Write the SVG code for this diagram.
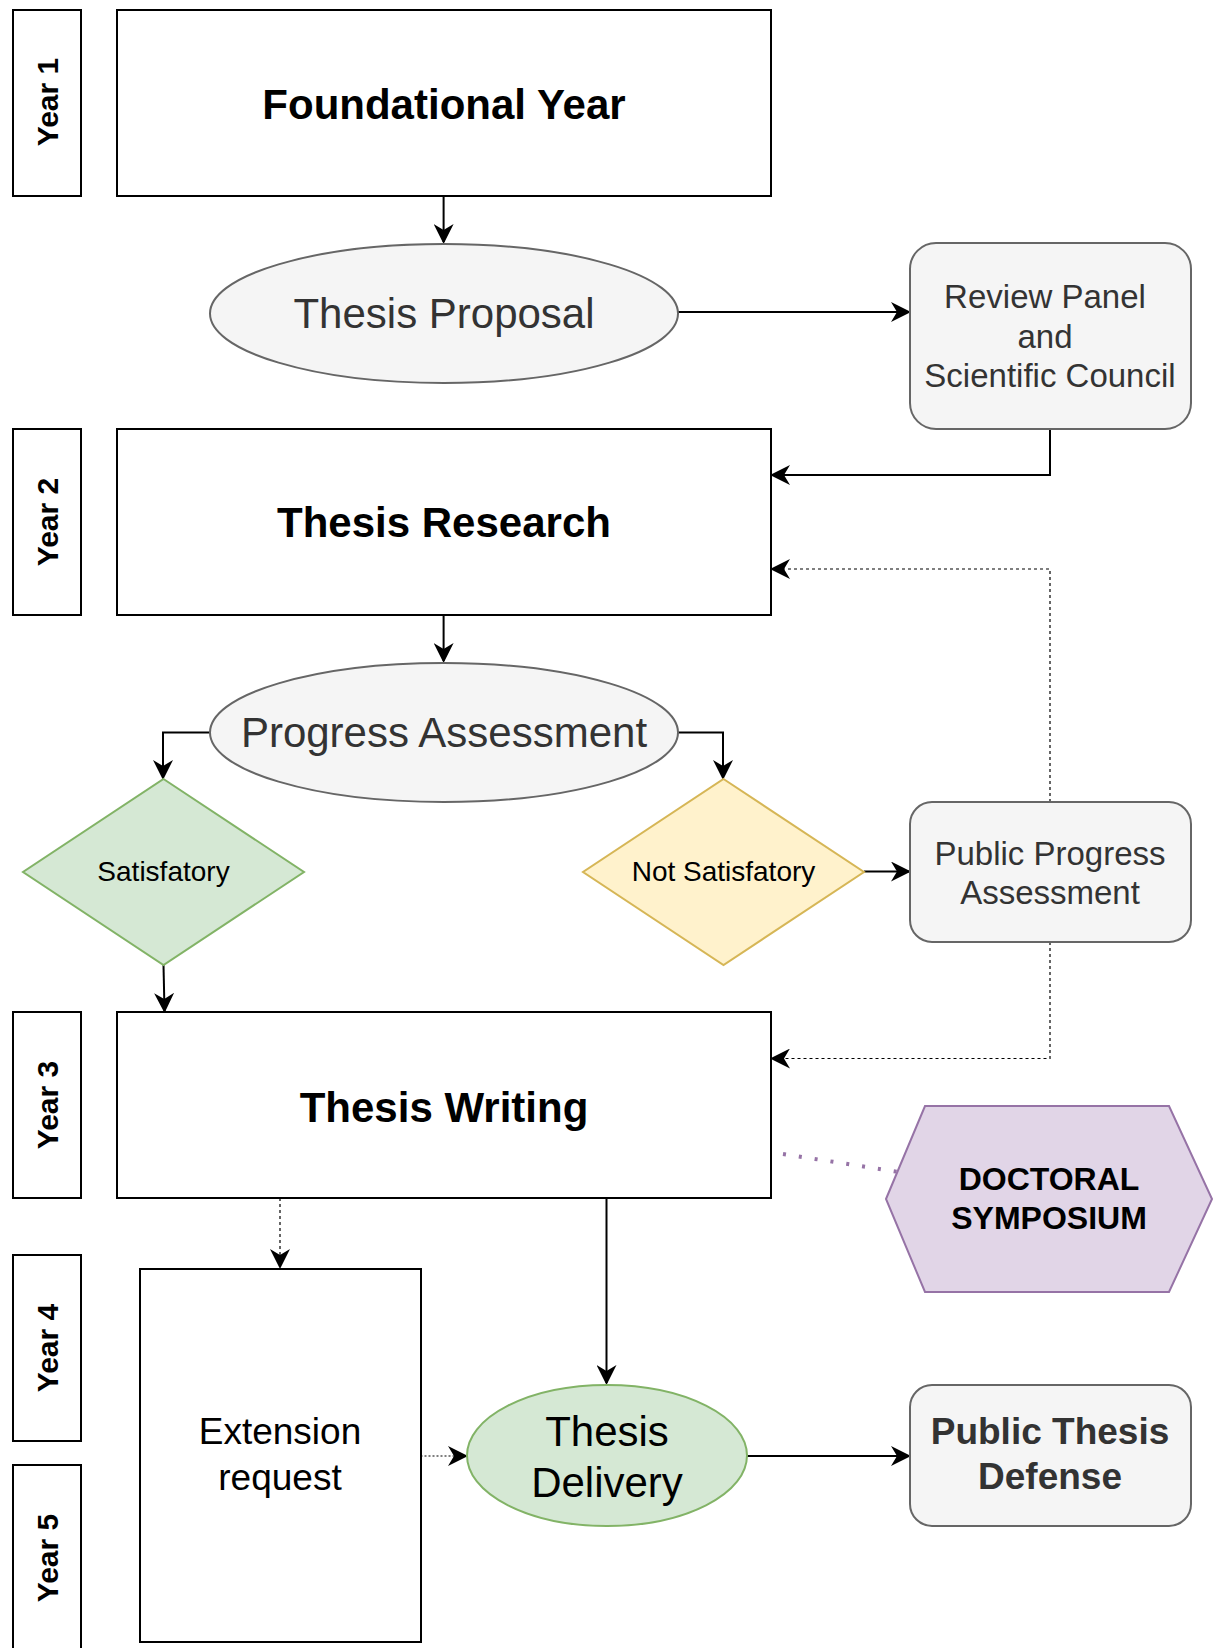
<svg xmlns="http://www.w3.org/2000/svg" width="1213" height="1648" viewBox="0 0 1213 1648">
<style>
text{font-family:"Liberation Sans",Arial,Helvetica,sans-serif;text-anchor:middle;dominant-baseline:central}
.box{fill:#ffffff;stroke:#000;stroke-width:2}
.grey{fill:#f5f5f5;stroke:#666666;stroke-width:2}
.big{font-size:42px;font-weight:bold;fill:#000}
.ell{font-size:42px;fill:#333}
.mid{font-size:33px;fill:#333}
.year{font-size:30px;font-weight:bold;fill:#000}
.conn{fill:none;stroke:#000;stroke-width:2}
.dash{fill:none;stroke:#000;stroke-width:1.2;stroke-dasharray:3 3}
</style>
<defs>
<marker id="arrB" viewBox="0 0 10 10" refX="9" refY="5" markerWidth="20" markerHeight="20" markerUnits="userSpaceOnUse" orient="auto">
<path d="M0,0 L10,5 L0,10 L3,5 z" fill="#000"/>
</marker>
</defs>

<g id="connectors">
<path class="conn" d="M443.6,195.5 V242" marker-end="url(#arrB)"/>
<path class="conn" d="M678,312 H909" marker-end="url(#arrB)"/>
<path class="conn" d="M1050,429 V475 H772" marker-end="url(#arrB)"/>
<path class="dash" d="M1050,802 V569 H772" marker-end="url(#arrB)"/>
<path class="conn" d="M443.6,615 V661" marker-end="url(#arrB)"/>
<path class="conn" d="M210,732.6 H163 V778" marker-end="url(#arrB)"/>
<path class="conn" d="M678,732.6 H723 V778" marker-end="url(#arrB)"/>
<path class="conn" d="M864,871.5 H909" marker-end="url(#arrB)"/>
<path class="dash" d="M1050,942 V1058.5 H772" marker-end="url(#arrB)"/>
<path class="conn" d="M163.5,965 L164.5,1011" marker-end="url(#arrB)"/>
<path fill="none" stroke="#9673a6" stroke-width="4" stroke-dasharray="3 13" d="M783,1154 L899,1172"/>
<path class="dash" d="M280,1198 V1267" marker-end="url(#arrB)"/>
<path class="conn" d="M606.5,1198 V1383" marker-end="url(#arrB)"/>
<path fill="none" stroke="#000" stroke-width="1.2" stroke-dasharray="2 2" d="M420.5,1456 H466" marker-end="url(#arrB)"/>
<path class="conn" d="M747,1456 H909" marker-end="url(#arrB)"/>
</g>

<g id="year1"><rect class="box" x="13" y="10" width="68" height="186"/><text class="year" transform="translate(47,102) rotate(-90)">Year 1</text></g>
<g id="year2"><rect class="box" x="13" y="429" width="68" height="186"/><text class="year" transform="translate(47,522) rotate(-90)">Year 2</text></g>
<g id="year3"><rect class="box" x="13" y="1012" width="68" height="186"/><text class="year" transform="translate(47,1105) rotate(-90)">Year 3</text></g>
<g id="year4"><rect class="box" x="13" y="1255" width="68" height="186"/><text class="year" transform="translate(47,1348) rotate(-90)">Year 4</text></g>
<g id="year5"><rect class="box" x="13" y="1465" width="68" height="190"/><text class="year" transform="translate(47,1558) rotate(-90)">Year 5</text></g>

<g id="foundational"><rect class="box" x="117" y="10" width="654" height="186"/><text class="big" x="444" y="104">Foundational Year</text></g>
<g id="proposal"><ellipse class="grey" cx="444" cy="313.5" rx="234" ry="69.5"/><text class="ell" x="444" y="313">Thesis Proposal</text></g>
<g id="review"><rect class="grey" x="910" y="243" width="281" height="186" rx="26" ry="26"/><text class="mid"><tspan x="1045" y="295.5">Review Panel</tspan><tspan x="1045" y="335.5">and</tspan><tspan x="1050" y="374.5">Scientific Council</tspan></text></g>
<g id="research"><rect class="box" x="117" y="429" width="654" height="186"/><text class="big" x="444" y="522">Thesis Research</text></g>
<g id="progress"><ellipse class="grey" cx="444" cy="732.5" rx="234" ry="69.5"/><text class="ell" x="444" y="732">Progress Assessment</text></g>
<g id="satisfactory"><polygon points="163.5,779 304,872 163.5,965 23,872" fill="#d5e8d4" stroke="#82b366" stroke-width="2"/><text x="163.5" y="871" font-size="28" fill="#000">Satisfatory</text></g>
<g id="notsatisfactory"><polygon points="723.5,779 864,872 723.5,965 583,872" fill="#fff2cc" stroke="#d6b656" stroke-width="2"/><text x="723.5" y="871" font-size="28" fill="#000">Not Satisfatory</text></g>
<g id="publicprogress"><rect class="grey" x="910" y="802" width="281" height="140" rx="22" ry="22"/><text class="mid"><tspan x="1050" y="853">Public Progress</tspan><tspan x="1050" y="892">Assessment</tspan></text></g>
<g id="writing"><rect class="box" x="117" y="1012" width="654" height="186"/><text class="big" x="444" y="1107">Thesis Writing</text></g>
<g id="symposium"><polygon points="886,1199 925,1106 1169,1106 1212,1199 1169,1292 925,1292" fill="#e1d5e7" stroke="#9673a6" stroke-width="2"/><text font-size="32" font-weight="bold" fill="#000"><tspan x="1049" y="1179">DOCTORAL</tspan><tspan x="1049" y="1218">SYMPOSIUM</tspan></text></g>
<g id="extension"><rect class="box" x="140" y="1269" width="281" height="373"/><text font-size="37" fill="#000"><tspan x="280" y="1431">Extension</tspan><tspan x="280" y="1477">request</tspan></text></g>
<g id="delivery"><ellipse cx="607" cy="1455.5" rx="140" ry="70.5" fill="#d5e8d4" stroke="#82b366" stroke-width="2"/><text font-size="42" fill="#000"><tspan x="607" y="1431">Thesis</tspan><tspan x="607" y="1482">Delivery</tspan></text></g>
<g id="defense"><rect class="grey" x="910" y="1385" width="281" height="141" rx="22" ry="22"/><text font-size="37" font-weight="bold" fill="#333"><tspan x="1050" y="1431">Public Thesis</tspan><tspan x="1050" y="1476">Defense</tspan></text></g>
</svg>
